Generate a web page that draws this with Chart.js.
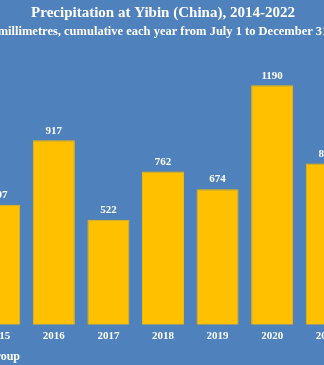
<!DOCTYPE html>
<html>
<head>
<meta charset="utf-8">
<script src="https://cdn.jsdelivr.net/npm/chart.js@4/dist/chart.umd.min.js"></script>
<style>
  html, body { margin: 0; padding: 0; background: #4F81BD; overflow: hidden; width: 324px; height: 365px; }
  #wrap { position: absolute; left: -28px; top: 0; width: 382px; height: 365px; }
  #note { position: absolute; right: 304px; top: 349px; color: #fff; font: bold 12px "Liberation Serif", serif; white-space: nowrap; }
</style>
</head>
<body>
<div id="wrap"><canvas id="rainChart" width="382" height="365"></canvas></div>
<div id="note">Group</div>
<script>
// years visible in the picture and their rainfall totals (mm)
var years = ['2015', '2016', '2017', '2018', '2019', '2020', '2021'];
var rainfall = [597, 917, 522, 762, 674, 1190, 801];

var titleText = 'Precipitation at Yibin (China), 2014-2022';
var subtitleText = 'millimetres, cumulative each year from July 1 to December 31';

// value labels above each bar
var valueLabels = {
  id: 'valueLabels',
  afterDatasetsDraw: function(chart) {
    var ctx = chart.ctx;
    var meta = chart.getDatasetMeta(0);
    ctx.save();
    ctx.fillStyle = '#ffffff';
    ctx.font = 'bold 11px "Liberation Serif", serif';
    ctx.textAlign = 'center';
    ctx.textBaseline = 'bottom';
    meta.data.forEach(function(bar, i) {
      ctx.fillText(rainfall[i], bar.x, bar.y - 4);
    });
    ctx.restore();
  }
};

var ctx = document.getElementById('rainChart').getContext('2d');
var rainChart = new Chart(ctx, {
  type: 'bar',
  data: {
    labels: years,
    datasets: [{
      label: 'Precipitation',
      data: rainfall,
      backgroundColor: '#FFC000',
      borderColor: '#F2B600',
      borderWidth: 1,
      categoryPercentage: 1,
      barPercentage: 0.77
    }]
  },
  options: {
    responsive: false,
    animation: false,
    layout: {
      padding: { top: 4, bottom: 25, left: 0, right: 0 }
    },
    plugins: {
      legend: { display: false },
      tooltip: { enabled: false },
      title: {
        display: true,
        text: titleText,
        color: '#ffffff',
        font: { family: '"Liberation Serif", serif', size: 15, weight: 'bold' },
        padding: { top: 0, bottom: 2 }
      },
      subtitle: {
        display: true,
        text: subtitleText,
        color: '#ffffff',
        font: { family: '"Liberation Serif", serif', size: 12.5, weight: 'bold' },
        padding: { top: 0, bottom: 4 }
      }
    },
    scales: {
      y: {
        display: false,
        min: 0,
        max: 1400
      },
      x: {
        grid: { display: false },
        border: { display: false },
        ticks: {
          color: '#ffffff',
          font: { family: '"Liberation Serif", serif', size: 11, weight: 'bold' },
          padding: -3
        }
      }
    }
  },
  plugins: [valueLabels]
});
</script>
</body>
</html>
